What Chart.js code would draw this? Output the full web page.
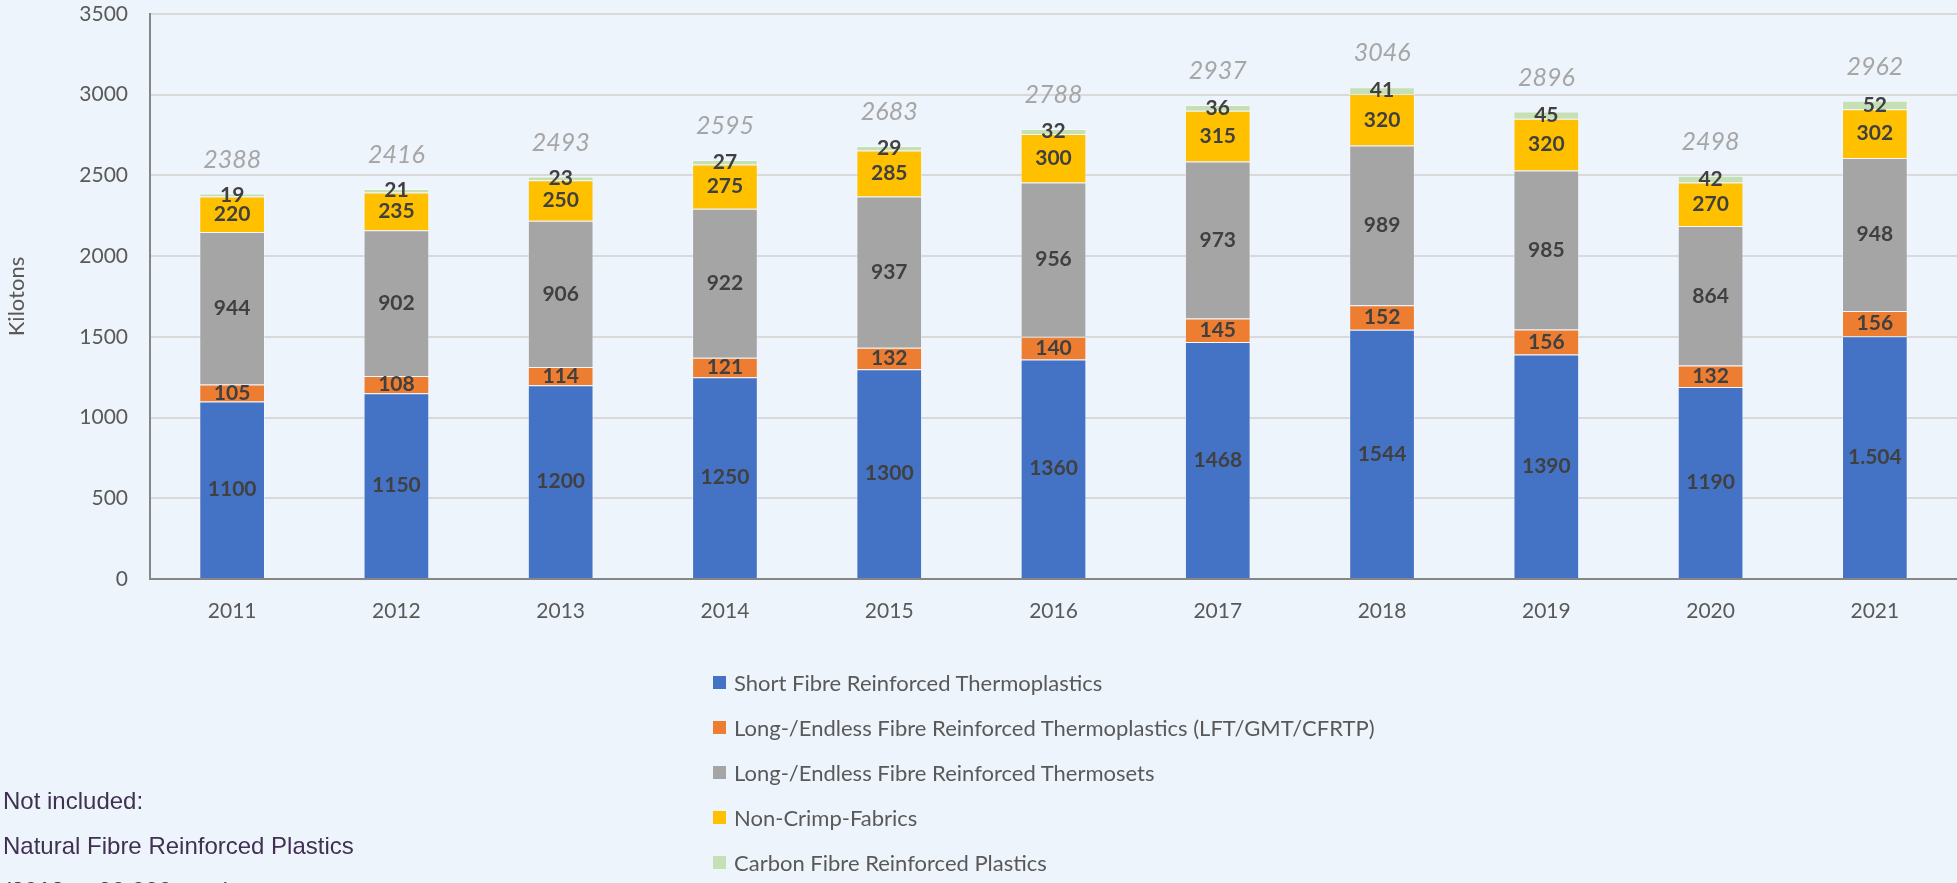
<!DOCTYPE html>
<html>
<head>
<meta charset="utf-8">
<script src="https://cdn.jsdelivr.net/npm/chart.js@4.4.1/dist/chart.umd.min.js"></script>
<style>
  html, body { margin: 0; padding: 0; background: #eef4fc; }
  #wrap { position: relative; width: 1957px; height: 883px; overflow: hidden; }
  #chart { position: absolute; left: 0; top: 0; }
  #legend { position: absolute; left: 713px; top: 660px; font-family: Lato, sans-serif; font-size: 22px; color: #595959; }
  #legend .item { height: 45px; display: flex; align-items: center; white-space: nowrap; }
  #legend .box { width: 13px; height: 13px; margin-right: 8px; flex: none; }
  .note { position: absolute; left: 3px; font-family: "Liberation Sans", Arial, sans-serif; font-size: 24px; color: #403152; white-space: nowrap; line-height: 28px; }
</style>
</head>
<body>
<div id="wrap">
  <canvas id="chart" width="1957" height="883"></canvas>
  <div id="legend"></div>
  <div class="note" style="top:787px">Not included:</div>
  <div class="note" style="top:832px">Natural Fibre Reinforced Plastics</div>
  <div class="note" style="top:877px">(2018: ~ 90.000 tons)</div>
</div>
<script>
const years = ['2011', '2012', '2013', '2014', '2015', '2016', '2017', '2018', '2019', '2020', '2021'];

const shortFibre = [1100, 1150, 1200, 1250, 1300, 1360, 1468, 1544, 1390, 1190, 1504];
const shortFibreText = ['1100', '1150', '1200', '1250', '1300', '1360', '1468', '1544', '1390', '1190', '1.504'];
const longThermoplastics = [105, 108, 114, 121, 132, 140, 145, 152, 156, 132, 156];
const longThermosets = [944, 902, 906, 922, 937, 956, 973, 989, 985, 864, 948];
const nonCrimp = [220, 235, 250, 275, 285, 300, 315, 320, 320, 270, 302];
const carbonFibre = [19, 21, 23, 27, 29, 32, 36, 41, 45, 42, 52];
const totals = [2388, 2416, 2493, 2595, 2683, 2788, 2937, 3046, 2896, 2498, 2962];

const yTicks = [0, 500, 1000, 1500, 2000, 2500, 3000, 3500];

Chart.defaults.font.family = 'Lato, sans-serif';

const datasets = [
  { label: 'Short Fibre Reinforced Thermoplastics', data: shortFibre, backgroundColor: '#4472c4', text: shortFibreText },
  { label: 'Long-/Endless Fibre Reinforced Thermoplastics (LFT/GMT/CFRTP)', data: longThermoplastics, backgroundColor: '#ed7d31' },
  { label: 'Long-/Endless Fibre Reinforced Thermosets', data: longThermosets, backgroundColor: '#a5a5a5' },
  { label: 'Non-Crimp-Fabrics', data: nonCrimp, backgroundColor: '#ffc000' },
  { label: 'Carbon Fibre Reinforced Plastics', data: carbonFibre, backgroundColor: '#c5e0b4' }
];

// value labels inside segments + italic totals above the stacks
const labelPlugin = {
  id: 'labels',
  afterDatasetsDraw(chart) {
    const ctx = chart.ctx;
    ctx.save();
    ctx.textAlign = 'center';
    ctx.textBaseline = 'middle';
    ctx.font = 'bold 21px Lato, sans-serif';
    ctx.fillStyle = '#404040';
    chart.data.datasets.forEach((ds, i) => {
      chart.getDatasetMeta(i).data.forEach((bar, j) => {
        const txt = ds.text ? ds.text[j] : String(ds.data[j]);
        ctx.fillText(txt, bar.x, (bar.y + bar.base) / 2);
      });
    });
    ctx.font = 'italic 25px Lato, sans-serif';
    ctx.fillStyle = '#a6a6a6';
    const xs = chart.scales.x, ys = chart.scales.y;
    totals.forEach((t, j) => {
      ctx.fillText(String(t), xs.getPixelForValue(j), ys.getPixelForValue(t) - 34);
    });
    ctx.restore();
  }
};

const chart = new Chart(document.getElementById('chart'), {
  type: 'bar',
  data: { labels: years, datasets: datasets },
  plugins: [labelPlugin],
  options: {
    responsive: false,
    animation: false,
    layout: { padding: { top: 14, right: 0, bottom: 0, left: 0 } },
    datasets: { bar: { barPercentage: 0.4, categoryPercentage: 1, borderWidth: 1, borderColor: 'rgba(255,255,255,0.35)' } },
    plugins: { legend: { display: false }, tooltip: { enabled: false } },
    scales: {
      x: {
        stacked: true,
        grid: { display: false, drawTicks: false },
        border: { color: '#868686', width: 2 },
        ticks: { color: '#595959', font: { size: 21 }, padding: 20 },
        afterFit(s) { s.height = 304; }
      },
      y: {
        stacked: true,
        min: 0,
        max: 3500,
        afterBuildTicks(s) { s.ticks = yTicks.map(v => ({ value: v })); },
        grid: { color: '#d9d9d9', lineWidth: 2, drawTicks: false },
        border: { color: '#868686', width: 2 },
        ticks: { color: '#595959', font: { size: 21 }, padding: 22, callback: v => String(v) },
        title: { display: true, text: 'Kilotons', color: '#595959', font: { size: 22 } },
        afterFit(s) { s.width = 150; s.paddingTop = 0; s.paddingBottom = 0; }
      }
    }
  }
});

const legend = document.getElementById('legend');
chart.data.datasets.forEach(ds => {
  const item = document.createElement('div');
  item.className = 'item';
  const box = document.createElement('span');
  box.className = 'box';
  box.style.background = ds.backgroundColor;
  const label = document.createElement('span');
  label.textContent = ds.label;
  item.appendChild(box);
  item.appendChild(label);
  legend.appendChild(item);
});
</script>
</body>
</html>
